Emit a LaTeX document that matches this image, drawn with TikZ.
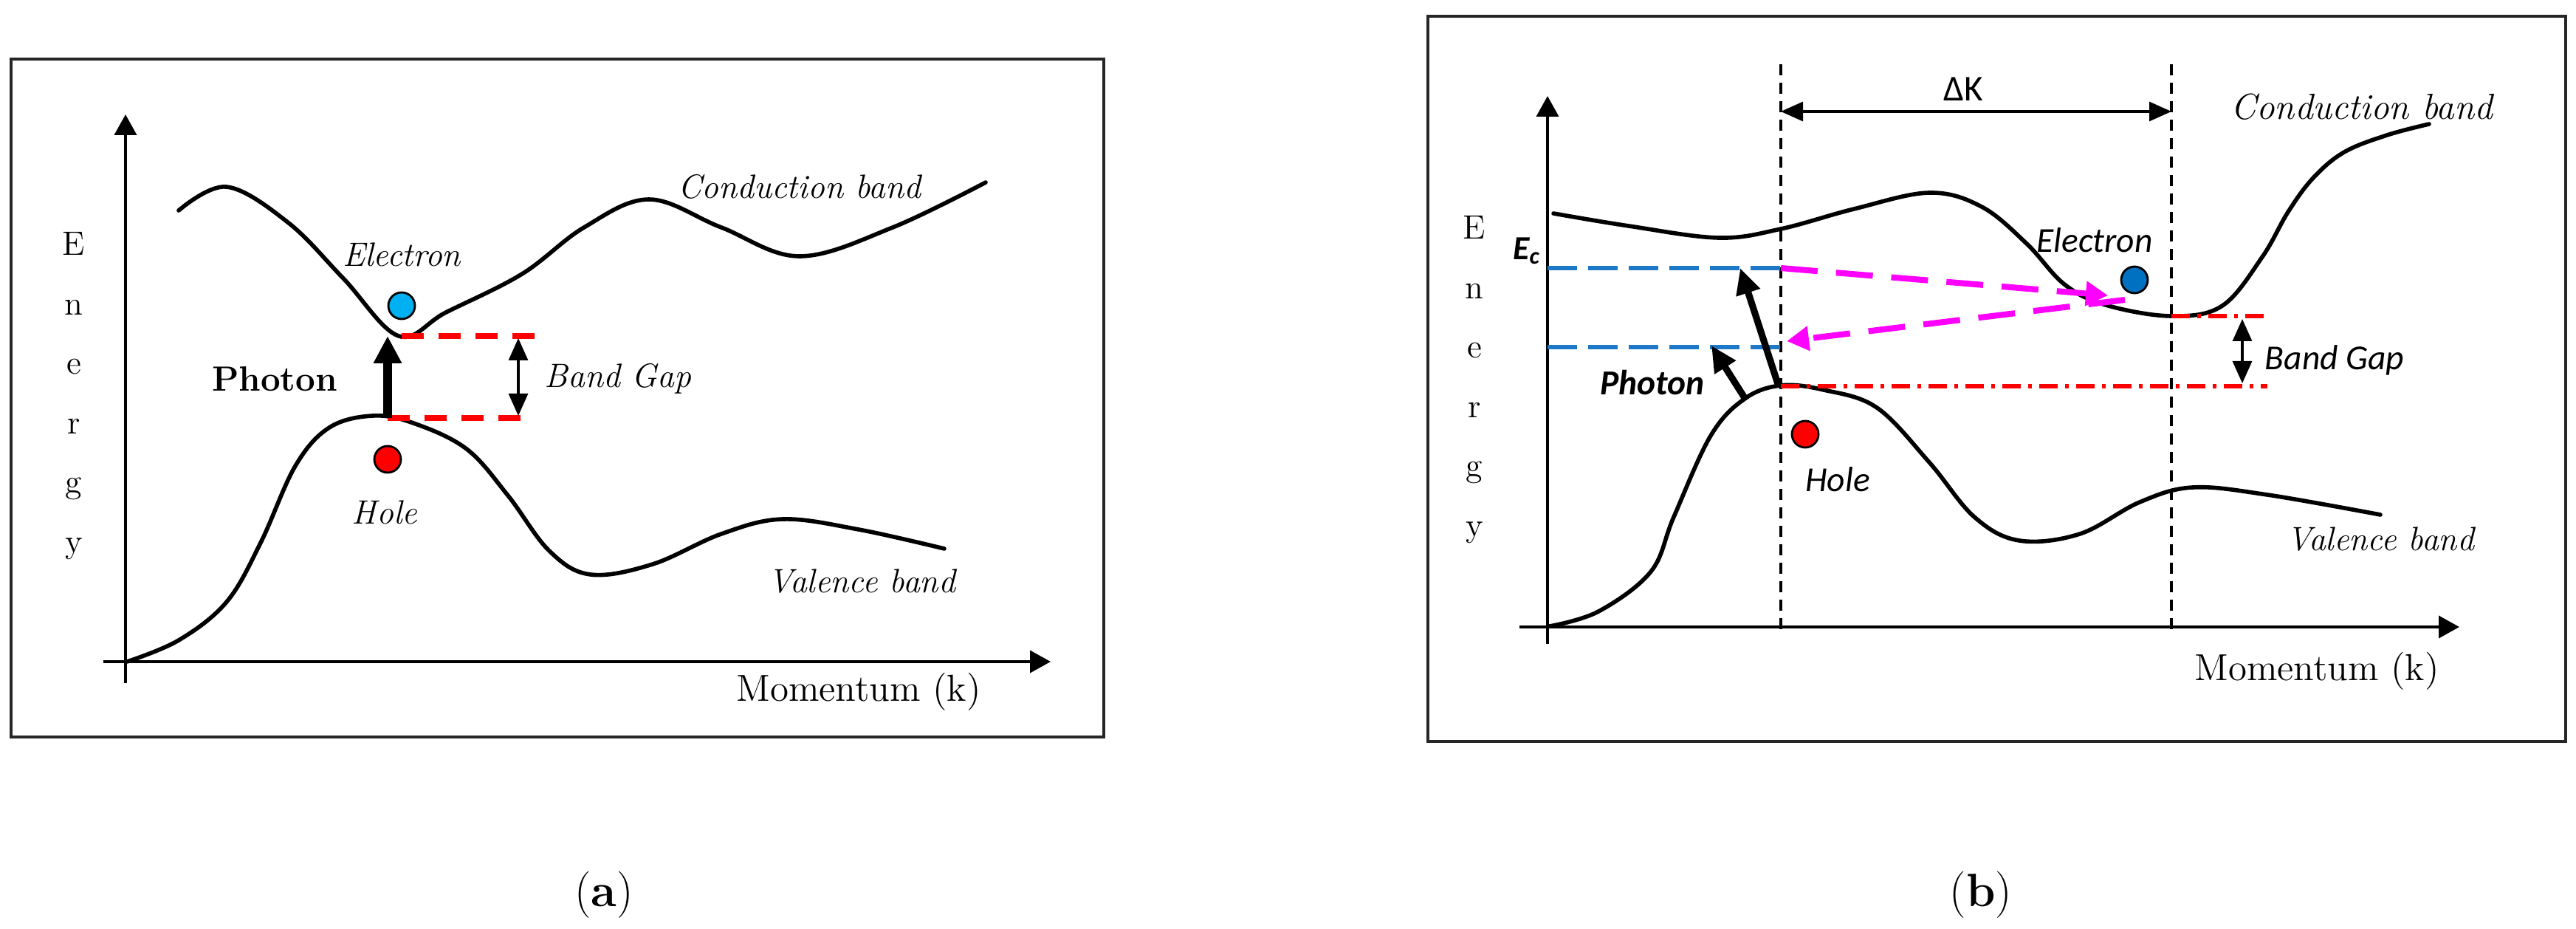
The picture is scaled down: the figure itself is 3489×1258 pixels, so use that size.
\documentclass[tikz,border=0pt]{standalone}
\usepackage{fontspec}
\usepackage{tikz}
\usetikzlibrary{arrows.meta}
\newfontfamily\calibri{Carlito}
\definecolor{elecA}{RGB}{0,176,240}
\definecolor{elecB}{RGB}{0,112,192}
\definecolor{dashblue}{RGB}{30,120,200}
\definecolor{magent}{RGB}{255,0,255}

\begin{document}
\begin{tikzpicture}[x=0.1mm,y=-0.1mm]
\tikzstyle{band}=[line width=1.6pt,line cap=round]
\tikzstyle{axis}=[line width=1.1pt,-{Triangle[length=2.8mm,width=3mm]}]
\tikzstyle{frame}=[line width=1.3pt,black!85]
\tikzstyle{particle}=[circle,draw=black,line width=0.8pt,minimum size=3.6mm,inner sep=0pt]
\tikzstyle{serif}=[font=\fontsize{13}{15}\selectfont\itshape]
\tikzstyle{sans}=[font=\calibri\fontsize{13.5}{16}\selectfont\itshape]
\tikzstyle{energy}=[font=\fontsize{13}{22.9}\selectfont,align=center,anchor=north,inner sep=0pt]
\tikzstyle{gaparrow}=[line width=0.9pt,{Triangle[length=3mm,width=2.6mm]}-{Triangle[length=3mm,width=2.6mm]}]
\tikzstyle{photon}=[line width=2.6pt,-{Triangle[length=3.5mm,width=3.2mm]}]
\useasboundingbox (0,0) rectangle (3489,1258);

% (a) direct band gap
\draw[frame] (15,80) rectangle (1495,998);
\coordinate (ybotA) at (170,925);
\coordinate (ytipA) at (170,155);
\coordinate (xbotA) at (140,896);
\coordinate (xtipA) at (1423,896);
\draw[axis] (ybotA) -- (ytipA);
\draw[axis] (xbotA) -- (xtipA);
\draw[band] plot[smooth,tension=0.6] coordinates {(242,285) (307,253) (391,302) (465,377) (540,455) (604,423) (707,371) (791,308) (879,270) (977,308) (1083,347) (1209,308) (1335,247)};
\draw[band] plot[smooth,tension=0.6] coordinates {(172,896) (242,867) (307,815) (353,735) (400,631) (446,579) (505,563) (560,573) (632,608) (688,671) (744,746) (800,778) (884,764) (977,723) (1060,703) (1163,717) (1279,743)};
\coordinate (vbA) at (525,566);
\coordinate (cbA) at (525,455);
\coordinate (cbminA) at (544,455);
\coordinate (cbendA) at (725,455);
\coordinate (vbendA) at (716,566);
\coordinate (gtopA) at (702,458);
\coordinate (gbotA) at (702,563);
\draw[red,line width=2pt,dash pattern=on 3mm off 2mm] (cbminA) -- (cbendA);
\draw[red,line width=2pt,dash pattern=on 3mm off 2mm] (vbA) -- (vbendA);
\draw[gaparrow] (gtopA) -- (gbotA);
\draw[line width=3.6pt,-{Triangle[length=3.7mm,width=3.6mm]}] (vbA) -- (cbA);
\node[particle,fill=elecA] (elecA) at (544,414) {};
\node[particle,fill=red] (holeA) at (525,622) {};
\node[serif] (elecTxtA) at (544,345) {Electron};
\node[serif] (holeTxtA) at (521,694) {Hole};
\node[font=\fontsize{13.5}{15}\selectfont\bfseries] (photTxtA) at (372,513) {Photon};
\node[serif] (gapTxtA) at (837,513) {Band Gap};
\node[serif] (cbTxtA) at (1083,253) {Conduction band};
\node[serif] (vbTxtA) at (1167,787) {Valence band};
\node[energy] (enA) at (100,314) {E\\n\\e\\r\\g\\y};
\node[font=\fontsize{14.5}{17}\selectfont] (momA) at (1163,937) {Momentum (k)};
\node[font=\fontsize{18}{20}\selectfont] (capA) at (818,1212) {(\textbf{a})};

% (b) indirect band gap
\draw[frame] (1934,22) rectangle (3475,1004);
\coordinate (ybotB) at (2096,872);
\coordinate (ytipB) at (2096,130);
\coordinate (xbotB) at (2058,849);
\coordinate (xtipB) at (3331,849);
\draw[axis] (ybotB) -- (ytipB);
\draw[axis] (xbotB) -- (xtipB);
\coordinate (k1top) at (2412,87);
\coordinate (k1bot) at (2412,855);
\coordinate (k2top) at (2941,87);
\coordinate (k2bot) at (2941,855);
\draw[line width=0.9pt,dash pattern=on 1.5mm off 1mm] (k1top) -- (k1bot);
\draw[line width=0.9pt,dash pattern=on 1.5mm off 1mm] (k2top) -- (k2bot);
\coordinate (dk1) at (2412,151);
\coordinate (dk2) at (2941,151);
\draw[gaparrow] (dk1) -- (dk2);
\draw[band] plot[smooth,tension=0.6] coordinates {(2104,289) (2206,306) (2328,322) (2412,310) (2511,283) (2613,261) (2684,280) (2745,330) (2796,385) (2852,413) (2941,428) (3010,414) (3064,348) (3099,287) (3133,241) (3175,206) (3233,183) (3290,168)};
\draw[band] plot[smooth,tension=0.6] coordinates {(2099,848) (2165,828) (2236,774) (2267,700) (2317,590) (2363,540) (2412,522) (2470,528) (2542,552) (2613,626) (2674,700) (2735,732) (2817,723) (2898,680) (2970,660) (3071,670) (3224,697)};
\coordinate (ecL) at (2096,363);
\coordinate (ecR) at (2412,363);
\coordinate (evL) at (2096,470);
\coordinate (evR) at (2425,470);
\draw[dashblue,line width=1.5pt,dash pattern=on 4mm off 1.5mm] (ecL) -- (ecR);
\draw[dashblue,line width=1.5pt,dash pattern=on 4mm off 1.5mm] (evL) -- (evR);
\coordinate (cbminB) at (2941,428);
\coordinate (cbendB) at (3071,428);
\coordinate (vbB) at (2412,523);
\coordinate (vbendB) at (3071,523);
\draw[red,line width=1.8pt,dash pattern=on 2.5mm off 1mm on 0.5mm off 1mm] (cbminB) -- (cbendB);
\draw[red,line width=1.8pt,dash pattern=on 2.5mm off 1mm on 0.5mm off 1mm] (vbB) -- (vbendB);
\coordinate (gtopB) at (3037,432);
\coordinate (gbotB) at (3037,519);
\draw[gaparrow] (gtopB) -- (gbotB);
\coordinate (scatIn) at (2855,400);
\coordinate (scatOut) at (2878,406);
\coordinate (scatEnd) at (2420,462);
\draw[magent,line width=2.3pt,dash pattern=on 5mm off 2.5mm,-{Triangle[length=3mm,width=3.2mm]}] (ecR) -- (scatIn);
\draw[magent,line width=2.3pt,dash pattern=on 5mm off 2.5mm,-{Triangle[length=3mm,width=3.2mm]}] (scatOut) -- (scatEnd);
\coordinate (phLong) at (2408,520);
\coordinate (phLongTip) at (2357,363);
\coordinate (phShort) at (2365,542);
\coordinate (phShortTip) at (2318,468);
\draw[photon] (phLong) -- (phLongTip);
\draw[photon] (phShort) -- (phShortTip);
\node[particle,fill=elecB] (elecB) at (2891,379) {};
\node[particle,fill=red] (holeB) at (2445,588) {};
\node[sans] (elecTxtB) at (2837,325) {Electron};
\node[sans] (holeTxtB) at (2489,649) {Hole};
\node[sans,font=\calibri\fontsize{13.5}{16}\selectfont\bfseries\itshape] (photTxtB) at (2238,518) {Photon};
\node[sans] (gapTxtB) at (3162,488) {Band Gap};
\node[font=\calibri\fontsize{14}{16}\selectfont] (dkTxt) at (2659,121) {ΔK};
\node[font=\calibri\fontsize{13}{15}\selectfont\bfseries\itshape] (ecTxt) at (2068,340) {E\textsubscript{c}};
\node[serif,font=\fontsize{14}{16}\selectfont\itshape] (cbTxtB) at (3199,145) {Conduction band};
\node[serif] (vbTxtB) at (3224,730) {Valence band};
\node[energy] (enB) at (1997,292) {E\\n\\e\\r\\g\\y};
\node[font=\fontsize{14.5}{17}\selectfont] (momB) at (3138,909) {Momentum (k)};
\node[font=\fontsize{18}{20}\selectfont] (capB) at (2683,1212) {(\textbf{b})};
\end{tikzpicture}
\end{document}
